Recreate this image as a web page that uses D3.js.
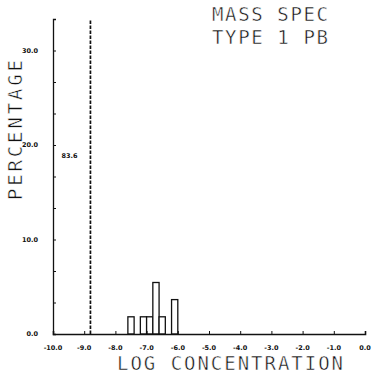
<!DOCTYPE html>
<html>
<head>
<meta charset="utf-8">
<script src="https://cdn.jsdelivr.net/npm/d3@7"></script>
<style>
  html, body { margin: 0; padding: 0; background: #fff; }
  svg { display: block; }
</style>
</head>
<body>
<svg id="chart" width="374" height="376"></svg>
<script>
// Histogram of log concentrations (bin width 0.2)
const binStarts = [-7.6, -7.2, -7.0, -6.8, -6.6, -6.2];
const binPercents = [1.82, 1.82, 1.82, 5.45, 1.82, 3.64];
const binWidth = 0.2;

// Off-scale bar (non-detects), drawn as a dashed line with its value
const offscaleAt = [-8.8];
const offscaleValue = [83.6];

const xTicks = [-10, -9, -8, -7, -6, -5, -4, -3, -2, -1, 0];
const yLabelTicks = [0, 10, 20, 30];
const yMinorTicks = d3.range(0, 11).map(i => i * 10 / 3);

const titleLines = ["MASS SPEC", "TYPE 1 PB"];
const xTitle = "LOG CONCENTRATION";
const yTitle = "PERCENTAGE";

const svg = d3.select("#chart");
const x = d3.scaleLinear().domain([-10, 0]).range([53, 365]);
const y = d3.scaleLinear().domain([0, 100 / 3]).range([334, 19]);

const ink = "#111";
const labelFont = "'DejaVu Sans', sans-serif";
const plotFont = "'DejaVu Sans Mono', monospace";

// Bars
svg.append("g").selectAll("rect").data(binStarts).join("rect")
  .attr("x", d => x(d))
  .attr("y", (d, i) => y(binPercents[i]))
  .attr("width", d => x(d + binWidth) - x(d))
  .attr("height", (d, i) => y(0) - y(binPercents[i]))
  .attr("fill", "#fff")
  .attr("stroke", ink)
  .attr("stroke-width", 1.3);

// Off-scale bar as a dashed line to the top of the axis
svg.append("g").selectAll("line").data(offscaleAt).join("line")
  .attr("x1", d => x(d)).attr("x2", d => x(d))
  .attr("y1", y(0)).attr("y2", y.range()[1])
  .attr("stroke", ink).attr("stroke-width", 1.7)
  .attr("stroke-dasharray", "3.5,1.5");

svg.append("g").selectAll("text").data(offscaleAt).join("text")
  .attr("x", d => x(d) - 13)
  .attr("y", y(18.6))
  .attr("text-anchor", "end")
  .attr("font-family", labelFont)
  .attr("font-weight", "bold")
  .attr("font-size", 6.5)
  .attr("fill", ink)
  .text((d, i) => offscaleValue[i].toFixed(1));

// X axis with ticks pointing up
const xAxis = d3.axisTop(x).tickValues(xTicks).tickSize(3).tickFormat("");
const gx = svg.append("g").attr("transform", `translate(0,${y(0)})`).call(xAxis);
gx.select(".domain").attr("stroke", ink).attr("stroke-width", 1.6);
gx.selectAll(".tick line").attr("stroke", ink).attr("stroke-width", 1);

svg.append("g").selectAll("text").data(xTicks).join("text")
  .attr("x", d => x(d))
  .attr("y", 350)
  .attr("text-anchor", "middle")
  .attr("font-family", labelFont)
  .attr("font-weight", "bold")
  .attr("font-size", 6.5)
  .attr("fill", ink)
  .text(d => d3.format(".1f")(d).replace("−", "-"));

// Y axis with ticks pointing right
const yAxis = d3.axisRight(y).tickValues(yMinorTicks).tickSize(3).tickFormat("");
const gy = svg.append("g").attr("transform", `translate(${x(-10)},0)`).call(yAxis);
gy.select(".domain").attr("stroke", ink).attr("stroke-width", 1.3);
gy.selectAll(".tick line").attr("stroke", ink).attr("stroke-width", 1);

svg.append("g").selectAll("text").data(yLabelTicks).join("text")
  .attr("x", 38)
  .attr("y", d => y(d) + 2.3)
  .attr("text-anchor", "end")
  .attr("font-family", labelFont)
  .attr("font-weight", "bold")
  .attr("font-size", 6.5)
  .attr("fill", ink)
  .text(d => d3.format(".1f")(d));

// Plotter-style lettering: glyphs thinned by a white outline,
// letter spacing stretched to the wanted run length
function plotText(transform, str, length) {
  svg.append("text")
    .attr("transform", transform)
    .attr("textLength", length).attr("lengthAdjust", "spacing")
    .attr("font-family", plotFont).attr("font-size", 19)
    .attr("fill", ink)
    .attr("stroke", "#fff").attr("stroke-width", 0.5)
    .text(str);
}

plotText("translate(117,370)", xTitle, 226);
plotText("translate(22,200) rotate(-90)", yTitle, 140);
titleLines.forEach((t, i) => plotText(`translate(212,${21 + i * 23})`, t, 116));
</script>
</body>
</html>
